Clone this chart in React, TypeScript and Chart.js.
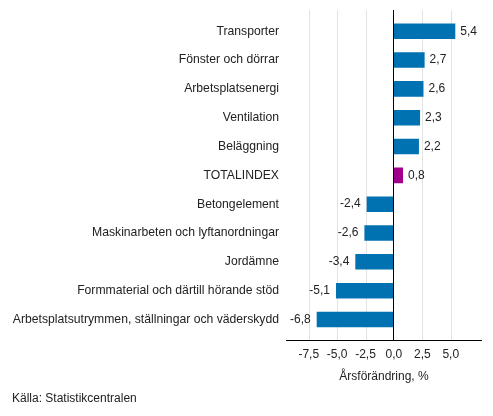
import React, { useEffect, useRef } from "react";
import { Chart, registerables } from "chart.js";

Chart.register(...registerables);

const categories = [
  "Transporter",
  "Fönster och dörrar",
  "Arbetsplatsenergi",
  "Ventilation",
  "Beläggning",
  "TOTALINDEX",
  "Betongelement",
  "Maskinarbeten och lyftanordningar",
  "Jordämne",
  "Formmaterial och därtill hörande stöd",
  "Arbetsplatsutrymmen, ställningar och väderskydd",
];
const values = [5.4, 2.7, 2.6, 2.3, 2.2, 0.8, -2.4, -2.6, -3.4, -5.1, -6.8];
const tickValues = [-7.5, -5, -2.5, 0, 2.5, 5];
const axisTitle = "Årsförändring, %";
const sourceText = "Källa: Statistikcentralen";

const FONT = "'Liberation Sans', Arial, sans-serif";
const BLUE = "#0072B2";
const PURPLE = "#A0008C";
const TEXT = "#222";
const GRID_TOP = 10;
const GRID_BOTTOM = 340.5;

const fmt = (v: number) => v.toFixed(1).replace(".", ",");

export default function App() {
  const ref = useRef<HTMLCanvasElement | null>(null);
  useEffect(() => {
    if (!ref.current) return;
    const customPlugin = {
      id: "customDraw",
      beforeDatasetsDraw(chart: any) {
        const ctx = chart.ctx;
        const xs = chart.scales.x;
        const area = chart.chartArea;
        ctx.save();
        ctx.lineWidth = 1;
        tickValues.forEach((v) => {
          if (v === 0) return;
          const px = Math.round(xs.getPixelForValue(v)) + 0.5;
          ctx.strokeStyle = "#e3e3e3";
          ctx.beginPath();
          ctx.moveTo(px, GRID_TOP);
          ctx.lineTo(px, GRID_BOTTOM);
          ctx.stroke();
        });
        ctx.strokeStyle = "#000";
        ctx.beginPath();
        ctx.moveTo(area.left, GRID_BOTTOM);
        ctx.lineTo(area.right, GRID_BOTTOM);
        ctx.stroke();
        ctx.restore();
      },
      afterDatasetsDraw(chart: any) {
        const ctx = chart.ctx;
        const xs = chart.scales.x;
        const meta = chart.getDatasetMeta(0);
        ctx.save();
        const zx = Math.round(xs.getPixelForValue(0)) - 0.5;
        ctx.strokeStyle = "#000";
        ctx.lineWidth = 1;
        ctx.beginPath();
        ctx.moveTo(zx, GRID_TOP);
        ctx.lineTo(zx, GRID_BOTTOM);
        ctx.stroke();
        ctx.font = `12px ${FONT}`;
        ctx.fillStyle = TEXT;
        ctx.textBaseline = "middle";
        meta.data.forEach((bar: any, i: number) => {
          const v = values[i];
          if (v >= 0) {
            ctx.textAlign = "left";
            ctx.fillText(fmt(v), bar.x + 5, bar.y);
          } else {
            ctx.textAlign = "right";
            ctx.fillText(fmt(v), bar.x - 6, bar.y);
          }
        });
        const area = chart.chartArea;
        ctx.textAlign = "center";
        ctx.fillText(axisTitle, (area.left + area.right) / 2, 377);
        ctx.textAlign = "left";
        ctx.fillText(sourceText, 12, 399);
        ctx.restore();
      },
    };
    const chart = new Chart(ref.current, {
      type: "bar",
      data: {
        labels: categories,
        datasets: [
          {
            data: values,
            backgroundColor: categories.map((c) => (c === "TOTALINDEX" ? PURPLE : BLUE)),
            borderWidth: 0,
            categoryPercentage: 1,
            barPercentage: 0.54,
          },
        ],
      },
      options: {
        indexAxis: "y",
        animation: false,
        responsive: false,
        maintainAspectRatio: false,
        layout: { padding: { left: 0, right: 11, top: 16.8, bottom: 0 } },
        plugins: {
          legend: { display: false },
          tooltip: { enabled: false },
        },
        scales: {
          x: {
            min: -9.5,
            max: 7.75,
            afterBuildTicks(scale: any) {
              scale.ticks = tickValues.map((v) => ({ value: v }));
            },
            afterFit(scale: any) {
              scale.height = 416 - 333.9;
            },
            ticks: {
              font: { family: FONT, size: 12 },
              color: TEXT,
              padding: 14,
              callback: (v: any) => fmt(Number(v)),
            },
            grid: { display: false, drawTicks: false },
            border: { display: false },
          },
          y: {
            afterFit(scale: any) {
              scale.width = 286;
            },
            ticks: {
              font: { family: FONT, size: 12.2 },
              color: TEXT,
              padding: 7,
            },
            grid: { display: false, drawTicks: false },
            border: { display: false },
          },
        },
      },
      plugins: [customPlugin],
    });
    return () => chart.destroy();
  }, []);
  return (
    <div style={{ position: "fixed", left: 0, top: 0, width: 493, height: 416, background: "#fff" }}>
      <canvas ref={ref} width={493} height={416} style={{ width: 493, height: 416 }} />
    </div>
  );
}
